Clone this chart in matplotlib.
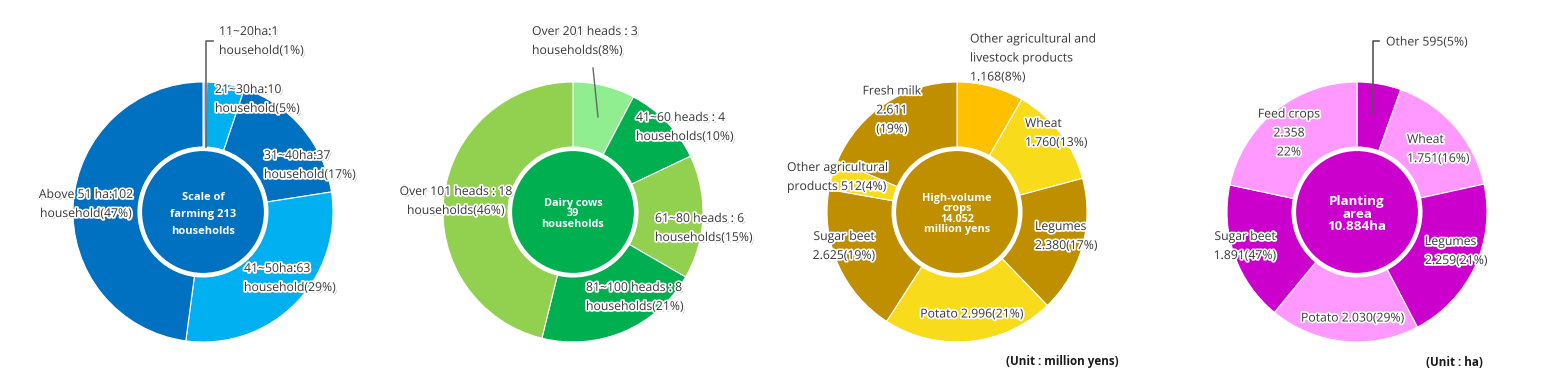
import matplotlib
matplotlib.use("Agg")
import matplotlib.pyplot as plt
import matplotlib.patheffects as pe
from matplotlib.patches import Circle

W, H = 1555, 379
FONT = ["Open Sans", "Lato", "DejaVu Sans"]

# ---------------- data ----------------
farm_labels = ["11~20ha:1\nhousehold(1%)", "21~30ha:10\nhousehold(5%)",
               "31~40ha:37\nhousehold(17%)", "41~50ha:63\nhousehold(29%)",
               "Above 51 ha:102\nhousehold(47%)"]
farm_values = [1, 10, 37, 63, 102]
farm_colors = ["#c5d3f0", "#00b0f0", "#0070c0", "#00b0f0", "#0070c0"]
farm_center = "Scale of\nfarming 213\nhouseholds"

dairy_labels = ["Over 201 heads : 3\nhouseholds(8%)", "41~60 heads : 4\nhouseholds(10%)",
                "61~80 heads : 6\nhouseholds(15%)", "81~100 heads : 8\nhouseholds(21%)",
                "Over 101 heads : 18\nhouseholds(46%)"]
dairy_values = [3, 4, 6, 8, 18]
dairy_colors = ["#90ee90", "#00b050", "#92d050", "#00b050", "#92d050"]
dairy_center = "Dairy cows\n39\nhouseholds"

crop_labels = ["Other agricultural and\nlivestock products\n1.168(8%)", "Wheat\n1.760(13%)",
               "Legumes\n2.380(17%)", "Potato 2.996(21%)", "Sugar beet\n2.625(19%)",
               "Other agricultural\nproducts 512(4%)", "Fresh milk\n2.611\n(19%)"]
crop_values = [1168, 1760, 2380, 2996, 2625, 512, 2611]
crop_colors = ["#ffc000", "#f8dc1c", "#bf8f00", "#f8dc1c", "#bf8f00", "#f8dc1c", "#bf8f00"]
crop_center = "High-volume\ncrops\n14.052\nmillion yens"
crop_unit = "(Unit : million yens)"

area_labels = ["Other 595(5%)", "Wheat\n1.751(16%)", "Legumes\n2.259(21%)",
               "Potato 2.030(29%)", "Sugar beet\n1.891(47%)", "Feed crops\n2.358\n22%"]
area_values = [595, 1751, 2259, 2030, 1891, 2358]
area_colors = ["#cc00cc", "#ff99ff", "#cc00cc", "#ff99ff", "#cc00cc", "#ff99ff"]
area_center = "Planting\narea\n10.884ha"
area_unit = "(Unit : ha)"

# ---------------- layout (pixel coords, y from top) ----------------
R_OUT, R_IN = 130, 65
CY = 212
centers_x = [203, 573, 957, 1357]

# label anchors: (x, y_center, ha)
farm_pos = [(219, 41, "left"), (215, 99, "left"), (264, 165, "left"),
            (244, 278, "left"), (86, 204, "center")]
dairy_pos = [(532, 41, "left"), (636, 127, "left"), (655, 228, "left"),
             (586, 297, "left"), (456, 201, "center")]
crop_pos = [(970, 58, "left"), (1025, 133, "left"), (1035, 236, "left"),
            (972, 314, "center"), (844, 246, "center"), (787, 177, "left"),
            (892, 110, "center")]
area_pos = [(1386, 42, "left"), (1407, 149, "left"), (1425, 251, "left"),
            (1301, 318, "left"), (1245, 246, "center"), (1289, 133, "center")]


def Y(y):
    return H - y


fig = plt.figure(figsize=(W / 100, H / 100), dpi=100)
ax = fig.add_axes([0, 0, 1, 1])

glow = [pe.withStroke(linewidth=2.5, foreground="white")]
shadow_glow = [pe.SimplePatchShadow(offset=(1.2, -1.2), shadow_rgbFace="#9a9a9a", alpha=0.8),
               pe.withStroke(linewidth=2.5, foreground="white")]


def donut(cx, values, colors, center_text, center_color, labels, positions,
          effects, center_size=7.6, center_ls=1.25):
    ax.pie(values, colors=colors, startangle=90, counterclock=False,
           center=(cx, Y(CY)), radius=R_OUT, frame=True,
           wedgeprops=dict(width=R_OUT - R_IN, edgecolor="white", linewidth=0.8))
    ax.add_patch(Circle((cx, Y(CY)), R_IN - 2.5, facecolor=center_color,
                        edgecolor="white", linewidth=2.3, zorder=3))
    ax.text(cx, Y(CY + 2), center_text, ha="center", va="center", color="white",
            fontsize=center_size, fontweight="bold", family=FONT,
            linespacing=center_ls, zorder=4)
    for lab, (x, y, ha) in zip(labels, positions):
        ax.text(x, Y(y), lab, ha=ha, va="center", fontsize=8.8, color="#383838",
                family=FONT, linespacing=1.6, path_effects=effects, zorder=5)


donut(centers_x[0], farm_values, farm_colors, farm_center, "#0070c0",
      farm_labels, farm_pos, shadow_glow, center_size=8.0, center_ls=1.75)
donut(centers_x[1], dairy_values, dairy_colors, dairy_center, "#00b050",
      dairy_labels, dairy_pos, shadow_glow, center_size=7.8, center_ls=0.95)
donut(centers_x[2], crop_values, crop_colors, crop_center, "#bf8f00",
      crop_labels, crop_pos, glow, center_size=7.8, center_ls=0.95)
donut(centers_x[3], area_values, area_colors, area_center, "#cc00cc",
      area_labels, area_pos, glow, center_size=9.6, center_ls=1.0)

# leader lines
ax.plot([206, 206, 213], [Y(147), Y(41), Y(41)], color="#666666", lw=1.2, zorder=6)
ax.plot([598, 593], [Y(117), Y(68)], color="#666666", lw=1.0, zorder=6)
ax.plot([1373, 1373, 1379], [Y(114), Y(41), Y(41)], color="#555555", lw=1.2, zorder=6)

# unit notes
ax.text(1119, Y(362), crop_unit, ha="right", va="center", fontsize=8.4,
        fontweight="bold", color="#1a1a1a", family=FONT)
ax.text(1483, Y(362), area_unit, ha="right", va="center", fontsize=8.4,
        fontweight="bold", color="#1a1a1a", family=FONT)

ax.set_xlim(0, W)
ax.set_ylim(0, H)
ax.set_aspect("auto")
ax.axis("off")
fig.savefig("out.png", dpi=100, facecolor="white")
